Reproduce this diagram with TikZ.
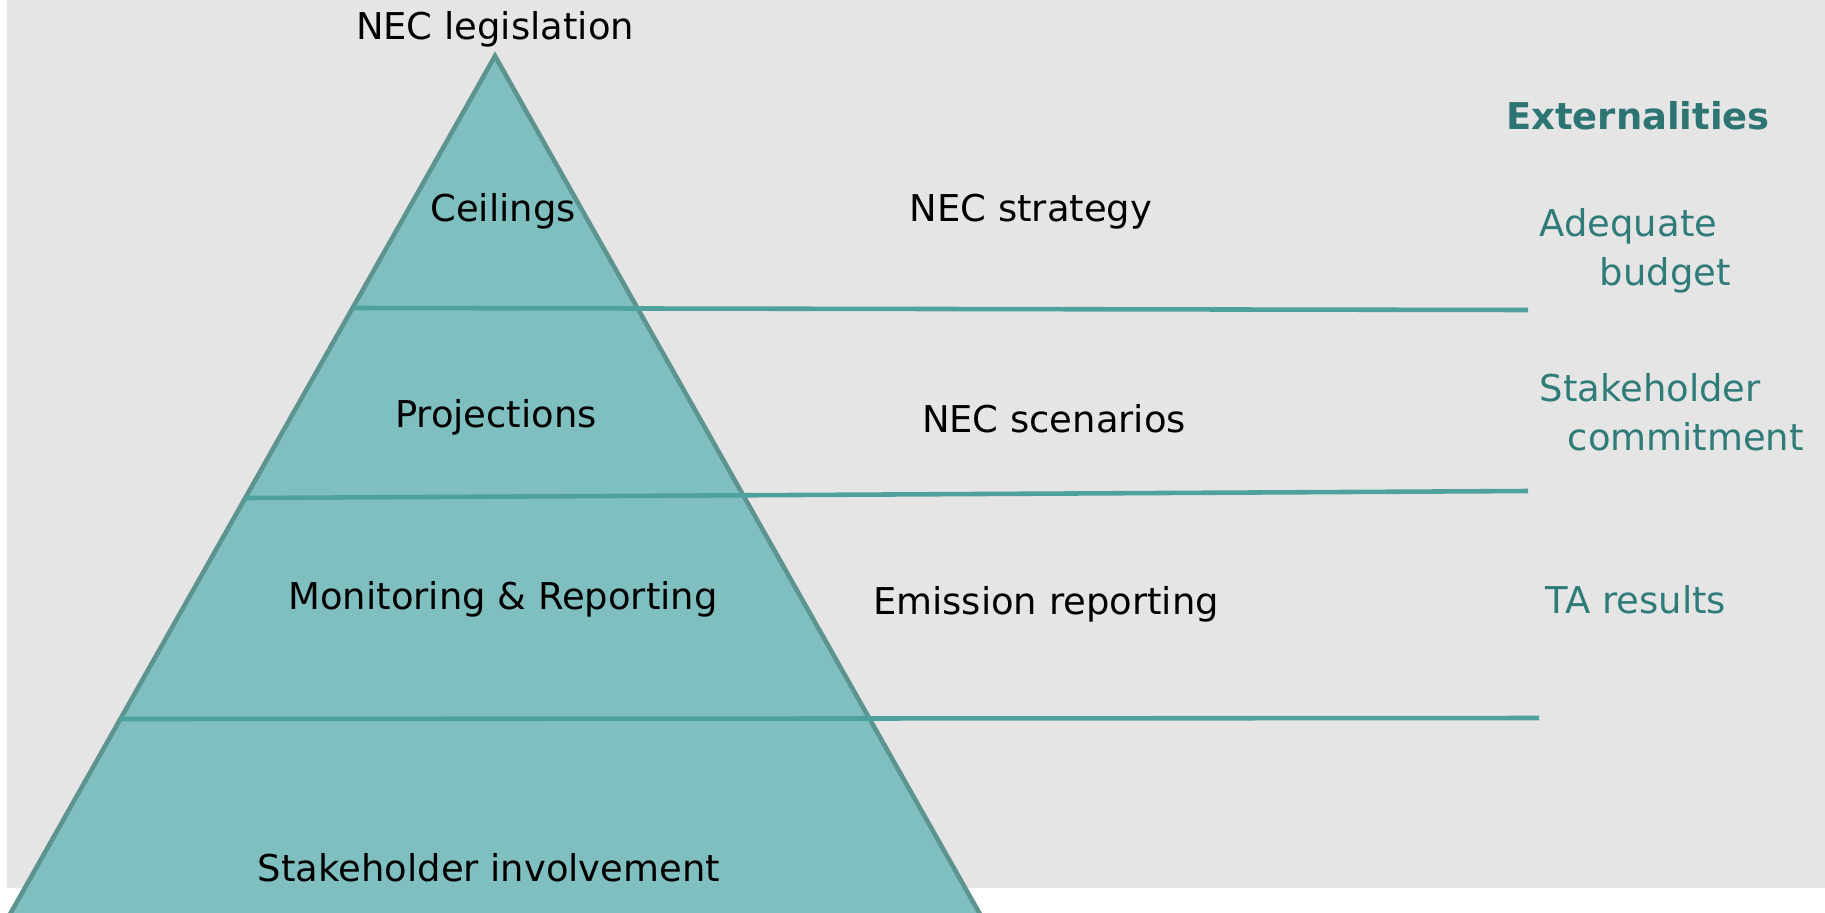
\documentclass[tikz,border=0pt]{standalone}
\usepackage{fontspec}
\setmainfont{DejaVu Sans}
\usetikzlibrary{positioning}
\definecolor{bggray}{HTML}{E5E5E5}
\definecolor{pyrfill}{HTML}{80BFBF}
\definecolor{pyredge}{HTML}{5E9490}
\definecolor{layerline}{HTML}{4FA19D}
\definecolor{extteal}{HTML}{2E7B78}
\tikzstyle{level}=[anchor=base, inner sep=0pt, text=black]
\tikzstyle{extern}=[anchor=base west, inner sep=0pt, text=extteal, align=left]
\tikzstyle{divider}=[draw=layerline, line width=1.3pt]

\begin{document}
\begin{tikzpicture}[x=0.01cm, y=-0.01cm, font=\fontsize{10.5}{13.9}\selectfont]
      \clip (0,0) rectangle (1825,912);
      \fill[bggray] (7,0) rectangle (1825,888);

      \coordinate (apex) at (495,56);
      \coordinate (baseL) at (-17,962);
      \coordinate (baseR) at (1007,962);
      \filldraw[fill=pyrfill, draw=pyredge, line width=1.3pt] (apex) -- (baseL) -- (baseR) -- cycle;

      \coordinate (l1) at (353,308);  \coordinate (r1) at (1528,310);
      \coordinate (l2) at (245,498);  \coordinate (r2) at (1528,491);
      \coordinate (l3) at (120,719);  \coordinate (r3) at (1539,718);
      \draw[divider] (l1) -- (r1);
      \draw[divider] (l2) -- (r2);
      \draw[divider] (l3) -- (r3);

      \node[level] (legis) at (495,39) {NEC legislation};
      \node[level] (ceil) at (503,221) {Ceilings};
      \node[level] (proj) at (496,427) {Projections};
      \node[level] (monrep) at (503,609) {Monitoring \& Reporting};
      \node[level] (invol) at (489,881) {Stakeholder involvement};

      \node[level] (strat) at (1031,221) {NEC strategy};
      \node[level] (scen) at (1054,432) {NEC scenarios};
      \node[level] (emis) at (1046,614) {Emission reporting};

      \node[level, text=extteal!95!black, font=\fontsize{10.5}{13.9}\selectfont\bfseries] (ext) at (1638,129) {Externalities};
      \node[extern, anchor=north west] (budget) at (1539,208) {Adequate\\\hspace*{0.60cm}budget};
      \node[extern, anchor=north west] (commit) at (1539,373) {Stakeholder\\\hspace*{0.28cm}commitment};
      \node[extern] (tares) at (1545,613) {TA results};
\end{tikzpicture}
\end{document}
